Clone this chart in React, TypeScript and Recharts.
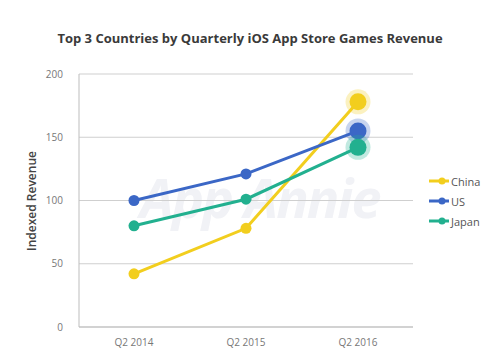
import { CartesianGrid, Line, LineChart, XAxis, YAxis } from "recharts";

const quarters = ["Q2 2014", "Q2 2015", "Q2 2016"];
const chinaValues = [42, 78, 178];
const usValues = [100, 121, 155];
const japanValues = [80, 101, 142];
const yTicks = [0, 50, 100, 150, 200];

const series = [
  { key: "China", color: "#F2CE1E" },
  { key: "US", color: "#3B67C6" },
  { key: "Japan", color: "#22B08F" },
];

const data = quarters.map((quarter, i) => ({
  quarter,
  China: chinaValues[i],
  US: usValues[i],
  Japan: japanValues[i],
}));

const font = "'Open Sans', 'Noto Sans', sans-serif";

function makeDot(color: string) {
  return (props: any) => {
    const { cx, cy, index } = props;
    if (cx == null || cy == null) return <g key={`d-${index}`} />;
    if (index === quarters.length - 1) {
      return (
        <g key={`d-${index}`}>
          <circle cx={cx} cy={cy} r={12.5} fill={color} fillOpacity={0.28} />
          <circle cx={cx} cy={cy} r={8.5} fill={color} />
        </g>
      );
    }
    return <circle key={`d-${index}`} cx={cx} cy={cy} r={5.5} fill={color} />;
  };
}

function ChartLegend() {
  return (
    <div style={{ position: "absolute", left: 428, top: 171, fontFamily: font, fontSize: 11, color: "#555" }}>
      {series.map((s) => (
        <div key={s.key} style={{ display: "flex", alignItems: "center", height: 20 }}>
          <svg width={22} height={10} style={{ marginRight: 1 }}>
            <line x1={1} y1={5} x2={21} y2={5} stroke={s.color} strokeWidth={3} />
            <circle cx={14} cy={5} r={3.5} fill={s.color} />
          </svg>
          <span>{s.key}</span>
        </div>
      ))}
    </div>
  );
}

export default function App() {
  return (
    <div style={{ position: "absolute", left: 0, top: 0, width: 500, height: 355, background: "#fff" }}>
      <div
        style={{
          position: "absolute",
          left: 0,
          top: 29,
          width: 500,
          textAlign: "center",
          fontFamily: font,
          fontWeight: 700,
          fontSize: 13,
          color: "#3a3a3a",
        }}
      >
        Top 3 Countries by Quarterly iOS App Store Games Revenue
      </div>
      <div
        style={{
          position: "absolute",
          left: 140,
          top: 160,
          fontFamily: font,
          fontWeight: 700,
          fontStyle: "italic",
          fontSize: 54,
          color: "#f1f2f6",
          letterSpacing: -2,
          whiteSpace: "nowrap",
        }}
      >
        App Annie
      </div>
      <div
        style={{
          position: "absolute",
          left: 31,
          top: 201,
          transform: "translate(-50%, -50%) rotate(-90deg)",
          whiteSpace: "nowrap",
          fontFamily: font,
          fontWeight: 600,
          fontSize: 12,
          color: "#444",
        }}
      >
        Indexed Revenue
      </div>
      <div style={{ position: "absolute", left: 0, top: 0 }}>
        <LineChart width={500} height={355} data={data} margin={{ top: 74, right: 87, bottom: 0, left: 29 }}>
          <CartesianGrid stroke="#cfcfcf" vertical={false} />
          <XAxis
            dataKey="quarter"
            height={28}
            padding={{ left: 55, right: 55 }}
            axisLine={{ stroke: "#bdbdbd" }}
            tickLine={false}
            tick={{ fill: "#777", fontSize: 10, fontFamily: font }}
            tickMargin={6}
          />
          <YAxis
            width={50}
            domain={[0, 200]}
            ticks={yTicks}
            axisLine={{ stroke: "#bdbdbd" }}
            tickLine={false}
            tick={{ fill: "#777", fontSize: 10, fontFamily: font }}
            tickMargin={10}
          />
          {series.map((s) => (
            <Line
              key={s.key}
              dataKey={s.key}
              stroke={s.color}
              strokeWidth={3}
              type="linear"
              dot={makeDot(s.color)}
              activeDot={false}
              isAnimationActive={false}
            />
          ))}
        </LineChart>
      </div>
      <ChartLegend />
    </div>
  );
}
